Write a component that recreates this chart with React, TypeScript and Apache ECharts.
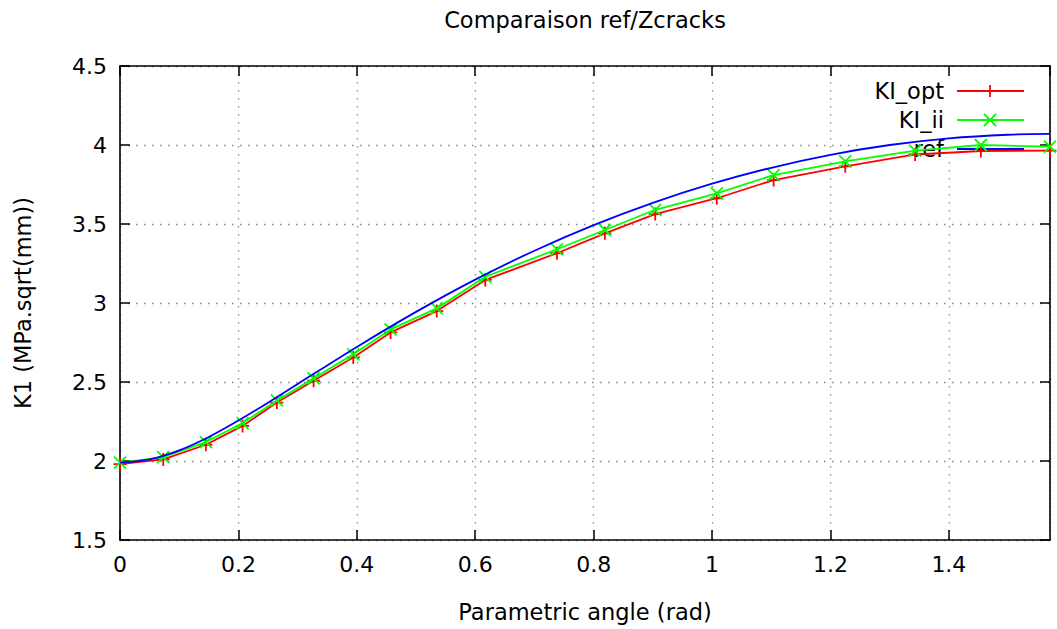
import React, { useEffect, useRef } from "react";
import * as echarts from "echarts";

// Crack-front samples (parametric angle, rad) and the two computed K1 curves
const angle = [0, 0.073, 0.145, 0.207, 0.265, 0.327, 0.394, 0.457, 0.535, 0.617, 0.738, 0.819, 0.904, 1.008, 1.104, 1.225, 1.343, 1.454, 1.5708];
const kiOpt = [1.98, 2.01, 2.103, 2.222, 2.37, 2.508, 2.655, 2.814, 2.949, 3.146, 3.315, 3.441, 3.563, 3.663, 3.778, 3.865, 3.94, 3.962, 3.965];
const kiIi = [1.99, 2.025, 2.12, 2.24, 2.383, 2.523, 2.675, 2.833, 2.966, 3.166, 3.34, 3.462, 3.59, 3.694, 3.81, 3.897, 3.965, 4.0, 3.99];

// Reference solution, sampled finely
const refAngle = [0, 0.05, 0.1, 0.15, 0.2, 0.25, 0.3, 0.4, 0.5, 0.6, 0.7, 0.8, 0.9, 1.0, 1.1, 1.2, 1.3, 1.4, 1.5, 1.5708];
const refK1 = [1.99, 2.01, 2.067, 2.152, 2.256, 2.369, 2.487, 2.722, 2.944, 3.148, 3.331, 3.493, 3.634, 3.755, 3.856, 3.938, 4.0, 4.042, 4.065, 4.07];

const X_MIN = 0;
const X_MAX = 1.5708;
const X_STEP = 0.2;
const Y_MIN = 1.5;
const Y_MAX = 4.5;
const Y_STEP = 0.5;

const FONT = "DejaVu Sans";
const RED = "#ff0000";
const GREEN = "#00ff00";
const BLUE = "#0000ff";
const LW = 1.8;

const PLUS = "path://M0,5L10,5M5,0L5,10";
const CROSS = "path://M0,0L10,10M10,0L0,10";

const pairs = (xs: number[], ys: number[]) => xs.map((x, i) => [x, ys[i]]);

// Plot frame in pixels
const L = 120, T = 66, R = 1050, B = 540;

export default function App() {
  const ref = useRef<HTMLDivElement>(null);

  useEffect(() => {
    if (!ref.current) return;
    const chart = echarts.init(ref.current, null, { renderer: "svg" });

    const tickStyle = { show: true, inside: true, length: 10, lineStyle: { color: "#000", width: 1.5 } };
    const frameLine = { show: true, onZero: false, lineStyle: { color: "#000", width: 1.6 } };
    const gridLine = { show: true, lineStyle: { color: "#888", width: 1.3, type: [1.5, 6.5] } };
    const labelStyle = { color: "#000", fontFamily: FONT, fontSize: 22 };

    const seg = (x1: number, y1: number, x2: number, y2: number, color: string) => ({
      type: "line",
      z: 1,
      shape: { x1, y1, x2, y2 },
      style: { stroke: color, lineWidth: LW },
    });

    const keyRow = (label: string, y: number, color: string, marker: "plus" | "cross" | null) => {
      const items: any[] = [
        {
          type: "text",
          x: 944,
          y,
          z: 1,
          style: {
            text: label,
            fill: "#000",
            font: `22.5px "${FONT}"`,
            textAlign: "right",
            textVerticalAlign: "middle",
          },
        },
        seg(957, y, 1024, y, color),
      ];
      const cx = 990, h = 6;
      if (marker === "plus") {
        items.push(seg(cx - h, y, cx + h, y, color));
        items.push(seg(cx, y - h, cx, y + h, color));
      } else if (marker === "cross") {
        items.push(seg(cx - h, y - h, cx + h, y + h, color));
        items.push(seg(cx - h, y + h, cx + h, y - h, color));
      }
      return items;
    };

    chart.setOption({
      animation: false,
      backgroundColor: "#fff",
      grid: { left: L, top: T, right: 1057 - R, bottom: 629 - B, containLabel: false },
      xAxis: [
        {
          type: "value",
          min: X_MIN,
          max: X_MAX,
          interval: X_STEP,
          axisLine: frameLine,
          axisTick: tickStyle,
          splitLine: gridLine,
          axisLabel: {
            ...labelStyle,
            margin: 13,
            showMaxLabel: false,
            formatter: (v: number) => (Math.abs(v - X_MAX) < 1e-6 ? "" : String(+v.toFixed(1))),
          },
        },
        {
          type: "value",
          position: "top",
          min: X_MIN,
          max: X_MAX,
          interval: X_STEP,
          z: 3,
          axisLine: frameLine,
          axisTick: tickStyle,
          splitLine: { show: false },
          axisLabel: { show: false },
        },
      ],
      yAxis: [
        {
          type: "value",
          min: Y_MIN,
          max: Y_MAX,
          interval: Y_STEP,
          axisLine: frameLine,
          axisTick: tickStyle,
          splitLine: gridLine,
          axisLabel: { ...labelStyle, margin: 13 },
        },
        {
          type: "value",
          position: "right",
          min: Y_MIN,
          max: Y_MAX,
          interval: Y_STEP,
          z: 3,
          axisLine: frameLine,
          axisTick: tickStyle,
          splitLine: { show: false },
          axisLabel: { show: false },
        },
      ],
      graphic: [
        // key box hides the grid behind the legend
        { type: "rect", z: 1, shape: { x: 864, y: T + 1, width: R - 865, height: 94 }, style: { fill: "#fff" } },
        ...keyRow("KI_opt", 91, RED, "plus"),
        ...keyRow("KI_ii", 120, GREEN, "cross"),
        ...keyRow("ref", 149, BLUE, null),
        {
          type: "text",
          x: (L + R) / 2,
          y: 20,
          style: { text: "Comparaison ref/Zcracks", fill: "#000", font: `22.5px "${FONT}"`, textAlign: "center", textVerticalAlign: "middle" },
        },
        {
          type: "text",
          x: (L + R) / 2,
          y: 612,
          style: { text: "Parametric angle (rad)", fill: "#000", font: `22.5px "${FONT}"`, textAlign: "center", textVerticalAlign: "middle" },
        },
        {
          type: "text",
          x: 23,
          y: (T + B) / 2,
          rotation: Math.PI / 2,
          style: { text: "K1 (MPa.sqrt(mm))", fill: "#000", font: `22.5px "${FONT}"`, textAlign: "center", textVerticalAlign: "middle" },
        },
      ],
      series: [
        {
          name: "KI_opt",
          type: "line",
          data: pairs(angle, kiOpt),
          clip: false,
          symbol: PLUS,
          symbolSize: 13,
          showSymbol: true,
          lineStyle: { color: RED, width: LW },
          itemStyle: { color: "none", borderColor: RED, borderWidth: LW },
          z: 3,
        },
        {
          name: "KI_ii",
          type: "line",
          data: pairs(angle, kiIi),
          clip: false,
          symbol: CROSS,
          symbolSize: 12,
          showSymbol: true,
          lineStyle: { color: GREEN, width: LW },
          itemStyle: { color: "none", borderColor: GREEN, borderWidth: LW },
          z: 4,
        },
        {
          name: "ref",
          type: "line",
          data: pairs(refAngle, refK1),
          smooth: 0.3,
          showSymbol: false,
          lineStyle: { color: BLUE, width: LW },
          itemStyle: { color: BLUE },
          z: 5,
        },
      ],
    });

    return () => chart.dispose();
  }, []);

  return <div ref={ref} style={{ position: "fixed", left: 0, top: 0, width: 1057, height: 629 }} />;
}
